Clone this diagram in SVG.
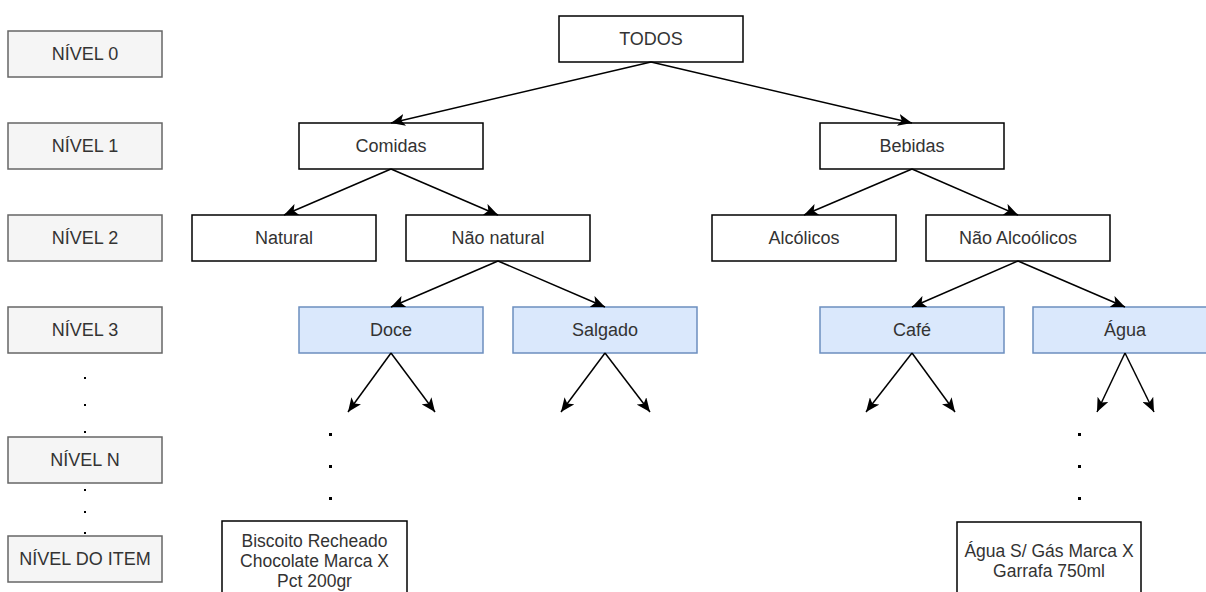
<svg xmlns="http://www.w3.org/2000/svg" width="1206" height="592" viewBox="0 0 1206 592">
  <style>
    .lvl rect { fill: #f5f5f5; stroke: #666666; stroke-width: 1.5; }
    .node rect { fill: #ffffff; stroke: #000000; stroke-width: 1.5; }
    .blue rect { fill: #dae8fc; stroke: #6c8ebf; stroke-width: 1.5; }
    text { font-family: "Liberation Sans", Arial, sans-serif; font-size: 18px; fill: #333333; text-anchor: middle; }
    .item text { font-size: 17.5px; }
    .edge { stroke: #000000; stroke-width: 1.5; fill: none; marker-end: url(#arrow); }
    .dot { fill: #000000; }
  </style>
  <defs>
    <marker id="arrow" viewBox="0 0 14 12" refX="14" refY="6" markerWidth="14" markerHeight="12" markerUnits="userSpaceOnUse" orient="auto">
      <path d="M0,0 L14,6 L0,12 L3.5,6 Z" fill="#000000"/>
    </marker>
  </defs>
  <rect width="1206" height="592" fill="#ffffff"/>

  <!-- level legend -->
  <g id="nivel-0" class="lvl"><rect x="8" y="31" width="154" height="46"/><text x="85" y="60">NÍVEL 0</text></g>
  <g id="nivel-1" class="lvl"><rect x="8" y="123" width="154" height="46"/><text x="85" y="152">NÍVEL 1</text></g>
  <g id="nivel-2" class="lvl"><rect x="8" y="215" width="154" height="46"/><text x="85" y="244">NÍVEL 2</text></g>
  <g id="nivel-3" class="lvl"><rect x="8" y="307" width="154" height="46"/><text x="85" y="336">NÍVEL 3</text></g>
  <g id="nivel-n" class="lvl"><rect x="8" y="437" width="154" height="46"/><text x="85" y="466">NÍVEL N</text></g>
  <g id="nivel-item" class="lvl"><rect x="8" y="536" width="154" height="46"/><text x="85" y="565">NÍVEL DO ITEM</text></g>

  <!-- ellipsis dots -->
  <g id="dots">
    <rect class="dot" x="84" y="377" width="2" height="2"/>
    <rect class="dot" x="84" y="404" width="2" height="2"/>
    <rect class="dot" x="84" y="431" width="2" height="2"/>
    <rect class="dot" x="84" y="489" width="2" height="2"/>
    <rect class="dot" x="84" y="511" width="2" height="2"/>
    <rect class="dot" x="84" y="532" width="2" height="2"/>
    <rect class="dot" x="329" y="433" width="3" height="3"/>
    <rect class="dot" x="329" y="465" width="3" height="3"/>
    <rect class="dot" x="329" y="497" width="3" height="3"/>
    <rect class="dot" x="1078" y="433" width="3" height="3"/>
    <rect class="dot" x="1078" y="465" width="3" height="3"/>
    <rect class="dot" x="1078" y="497" width="3" height="3"/>
  </g>

  <!-- tree nodes -->
  <g id="todos" class="node"><rect x="559" y="16" width="184" height="46"/><text x="651" y="45">TODOS</text></g>
  <g id="comidas" class="node"><rect x="299" y="123" width="184" height="46"/><text x="391" y="152">Comidas</text></g>
  <g id="bebidas" class="node"><rect x="820" y="123" width="184" height="46"/><text x="912" y="152">Bebidas</text></g>
  <g id="natural" class="node"><rect x="192" y="215" width="184" height="46"/><text x="284" y="244">Natural</text></g>
  <g id="nao-natural" class="node"><rect x="406" y="215" width="184" height="46"/><text x="498" y="244">Não natural</text></g>
  <g id="alcoolicos" class="node"><rect x="712" y="215" width="184" height="46"/><text x="804" y="244">Alcólicos</text></g>
  <g id="nao-alcoolicos" class="node"><rect x="926" y="215" width="184" height="46"/><text x="1018" y="244">Não Alcoólicos</text></g>
  <g id="doce" class="blue"><rect x="299" y="307" width="184" height="46"/><text x="391" y="336">Doce</text></g>
  <g id="salgado" class="blue"><rect x="513" y="307" width="184" height="46"/><text x="605" y="336">Salgado</text></g>
  <g id="cafe" class="blue"><rect x="820" y="307" width="184" height="46"/><text x="912" y="336">Café</text></g>
  <g id="agua" class="blue"><rect x="1033" y="307" width="184" height="46"/><text x="1125" y="336">Água</text></g>
  <g id="biscoito" class="node item"><rect x="222" y="521" width="185" height="80"/>
    <text x="314.5" y="547">Biscoito Recheado</text>
    <text x="314.5" y="567">Chocolate Marca X</text>
    <text x="314.5" y="587">Pct 200gr</text>
  </g>
  <g id="agua-sem-gas" class="node item"><rect x="957" y="522" width="184" height="80"/>
    <text x="1049" y="557">Água S/ Gás Marca X</text>
    <text x="1049" y="577">Garrafa 750ml</text>
  </g>

  <!-- connectors -->
  <g id="edges">
    <line class="edge" x1="651" y1="62" x2="391" y2="123"/>
    <line class="edge" x1="651" y1="62" x2="912" y2="123"/>
    <line class="edge" x1="391" y1="169" x2="284" y2="215"/>
    <line class="edge" x1="391" y1="169" x2="498" y2="215"/>
    <line class="edge" x1="912" y1="169" x2="804" y2="215"/>
    <line class="edge" x1="912" y1="169" x2="1018" y2="215"/>
    <line class="edge" x1="498" y1="261" x2="391" y2="307"/>
    <line class="edge" x1="498" y1="261" x2="605" y2="307"/>
    <line class="edge" x1="1018" y1="261" x2="912" y2="307"/>
    <line class="edge" x1="1018" y1="261" x2="1125" y2="307"/>
    <line class="edge" x1="391" y1="353" x2="348" y2="412"/>
    <line class="edge" x1="391" y1="353" x2="435" y2="412"/>
    <line class="edge" x1="605" y1="353" x2="561" y2="412"/>
    <line class="edge" x1="605" y1="353" x2="650" y2="412"/>
    <line class="edge" x1="912" y1="353" x2="866" y2="412"/>
    <line class="edge" x1="912" y1="353" x2="955" y2="412"/>
    <line class="edge" x1="1125" y1="353" x2="1097" y2="412"/>
    <line class="edge" x1="1125" y1="353" x2="1154" y2="412"/>
  </g>
</svg>
